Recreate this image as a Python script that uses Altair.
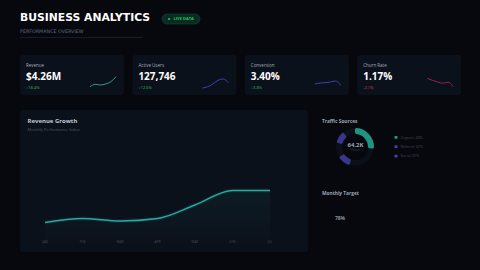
import math
import altair as alt
import pandas as pd

# ---- dashboard data -------------------------------------------------------
kpi_labels = ["Revenue", "Active Users", "Conversion", "Churn Rate"]
kpi_values = ["$4.26M", "127,746", "3.40%", "1.17%"]
kpi_deltas = ["+18.4%", "+12.6%", "+3.8%", "-2.1%"]

spark_revenue = [3.3, 5.7, 5.0, 6.0, 8.3, 13.3]
spark_users = [2.0, 3.2, 6.0, 9.7, 11.0, 7.3]
spark_conversion = [6.0, 7.0, 7.3, 8.0, 9.0, 4.5]
spark_churn = [11.7, 9.7, 8.0, 6.8, 7.8, 3.3]

months = ["JAN", "FEB", "MAR", "APR", "MAY", "JUN", "JUL"]
growth_index = [22.5, 26.5, 24.0, 26.5, 40.0, 54.5, 54.5]

traffic_names = ["Organic 48%", "Referral 32%", "Social 20%"]
traffic_start = [0, 283, 197]
traffic_end = [95, 321, 238]

target_pct = "78%"
visitors = "64.2K"

# ---- styling --------------------------------------------------------------
BG = "#06080d"
CARD = "#0b111b"
FONT = "Open Sans"
TEAL = "#2aa89f"
spark_colors = ["#2a9f95", "#3a3fae", "#3d42a2", "#8f2452"]
delta_colors = ["#22c55e", "#22c55e", "#22c55e", "#e0405f"]
traffic_colors = ["#1f9482", "#3a3690", "#3a3690"]
legend_colors = ["#1f9a68", "#4540a8", "#4540a8"]

base = pd.DataFrame({"k": [0]})
layers = []


def text(s, x, y, size, color, weight="normal", align="left", font=FONT, baseline="alphabetic"):
    return alt.Chart(base).mark_text(
        text=s, fontSize=size, color=color, fontWeight=weight, align=align,
        baseline=baseline, font=font,
    ).encode(x=alt.value(x), y=alt.value(y))


def box(x0, y0, x1, y1, fill, radius=0, stroke=None, opacity=1):
    kw = dict(color=fill, cornerRadius=radius, opacity=opacity)
    if stroke:
        kw.update(stroke=stroke, strokeWidth=0.6)
    return alt.Chart(base).mark_rect(**kw).encode(
        x=alt.value(x0), x2=alt.value(x1), y=alt.value(y0), y2=alt.value(y1)
    )


# ---- header ---------------------------------------------------------------
layers.append(text("BUSINESS ANALYTICS", 20, 21, 10.8, "#ffffff", "bold", font="DejaVu Sans"))
layers.append(text("PERFORMANCE OVERVIEW", 20, 33, 4.8, "#5f6b80", font="DejaVu Sans"))
layers.append(box(20, 37.3, 143, 37.9, "#1b2436"))
layers.append(box(162, 14, 200, 24, "#0b2a22", radius=5, stroke="#0f4a36"))
layers.append(
    alt.Chart(base).mark_point(filled=True, size=5, color="#22c55e", opacity=1)
    .encode(x=alt.value(169), y=alt.value(19))
)
layers.append(text("LIVE DATA", 173.5, 19, 4, "#22c55e", "bold", baseline="middle"))

# ---- KPI cards ------------------------------------------------------------
sparks = [spark_revenue, spark_users, spark_conversion, spark_churn]
card_x = [20 + i * 112.4 for i in range(4)]
for i, cx in enumerate(card_x):
    layers.append(box(cx, 55, cx + 104, 95, CARD, radius=3))
    layers.append(text(kpi_labels[i], cx + 6, 66.5, 4.5, "#a3abb8"))
    layers.append(text(kpi_values[i], cx + 6, 80, 10, "#ffffff", "bold"))
    layers.append(text(kpi_deltas[i], cx + 6, 89, 4, delta_colors[i]))
    sdf = pd.DataFrame({"i": range(len(sparks[i])), "v": sparks[i]})
    layers.append(
        alt.Chart(sdf).mark_line(color=spark_colors[i], strokeWidth=1.0, interpolate="monotone")
        .encode(
            x=alt.X("i:Q", axis=None, scale=alt.Scale(domain=[0, len(sparks[i]) - 1], range=[cx + 70, cx + 96])),
            y=alt.Y("v:Q", axis=None, scale=alt.Scale(domain=[0, 15], range=[90, 75])),
        )
    )

# ---- revenue growth panel -------------------------------------------------
layers.append(box(20, 110, 308, 252, CARD, radius=3))
layers.append(text("Revenue Growth", 27.5, 123, 6, "#c3c8d2", "bold"))
layers.append(text("Monthly Performance Index", 27.5, 130.5, 4, "#4f5a6b"))

gdf = pd.DataFrame({"m": range(len(months)), "month": months, "v": growth_index})
gx = alt.X("m:Q", axis=None, scale=alt.Scale(domain=[0, len(months) - 1], range=[45, 270]))
gy = alt.Y("v:Q", axis=None, scale=alt.Scale(domain=[0, 100], range=[245, 145]))
layers.append(
    alt.Chart(gdf).mark_area(
        interpolate="monotone",
        color=alt.Gradient(
            gradient="linear", x1=0, x2=0, y1=0, y2=1,
            stops=[alt.GradientStop(color="rgba(43,179,166,0.07)", offset=0),
                   alt.GradientStop(color="rgba(43,179,166,0.0)", offset=1)],
        ),
    ).encode(x=gx, y=gy, y2=alt.value(232))
)
layers.append(
    alt.Chart(gdf).mark_line(interpolate="monotone", color=TEAL, strokeWidth=4, opacity=0.10)
    .encode(x=gx, y=gy)
)
layers.append(
    alt.Chart(gdf).mark_line(interpolate="monotone", color=TEAL, strokeWidth=1.4)
    .encode(x=gx, y=gy)
)
layers.append(
    alt.Chart(gdf).mark_text(fontSize=3.3, color="#424c5c", font=FONT)
    .encode(x=gx, y=alt.value(242), text="month:N")
)

# ---- traffic sources ------------------------------------------------------
layers.append(text("Traffic Sources", 322, 122.5, 4.8, "#9aa3b2", "bold"))
ring = pd.DataFrame({"s": [0], "e": [360]})
theta_scale = alt.Scale(domain=[0, 360], range=[0, 2 * math.pi])
layers.append(
    alt.Chart(ring).mark_arc(radius=19, radius2=13, color="#0a0f18")
    .encode(theta=alt.Theta("s:Q", scale=theta_scale, stack=None), theta2="e:Q",
            x=alt.value(355), y=alt.value(147))
)
tdf = pd.DataFrame({"name": traffic_names, "s": traffic_start, "e": traffic_end, "c": traffic_colors})
layers.append(
    alt.Chart(tdf).mark_arc(radius=19, radius2=13, cornerRadius=1.5)
    .encode(theta=alt.Theta("s:Q", scale=theta_scale, stack=None), theta2="e:Q",
            color=alt.Color("c:N", scale=None),
            x=alt.value(355), y=alt.value(147))
)
layers.append(text(visitors, 355.5, 147, 6, "#9aa3b2", "bold", align="center"))
layers.append(text("Visitors", 355.5, 151, 2.8, "#3f4858", align="center"))
for j, name in enumerate(traffic_names):
    yy = 137.3 + j * 9.4
    layers.append(box(394.5, yy - 1.4, 397.5, yy + 1.4, legend_colors[j], radius=0.5))
    layers.append(text(name, 400.5, yy + 1.3, 3.8, "#3e4756"))

# ---- monthly target -------------------------------------------------------
layers.append(text("Monthly Target", 322, 194.5, 4.8, "#9aa3b2", "bold"))
layers.append(text(target_pct, 340, 219.5, 5, "#8a93a3", "bold", align="center"))

chart = (
    alt.layer(*layers, data=base)
    .resolve_scale(x="independent", y="independent", theta="independent", color="independent")
    .properties(width=480, height=270, background=BG, padding=0, autosize="none")
    .configure_view(stroke=None)
)

chart.save("out.html", embed_options={"renderer": "svg", "actions": False})
